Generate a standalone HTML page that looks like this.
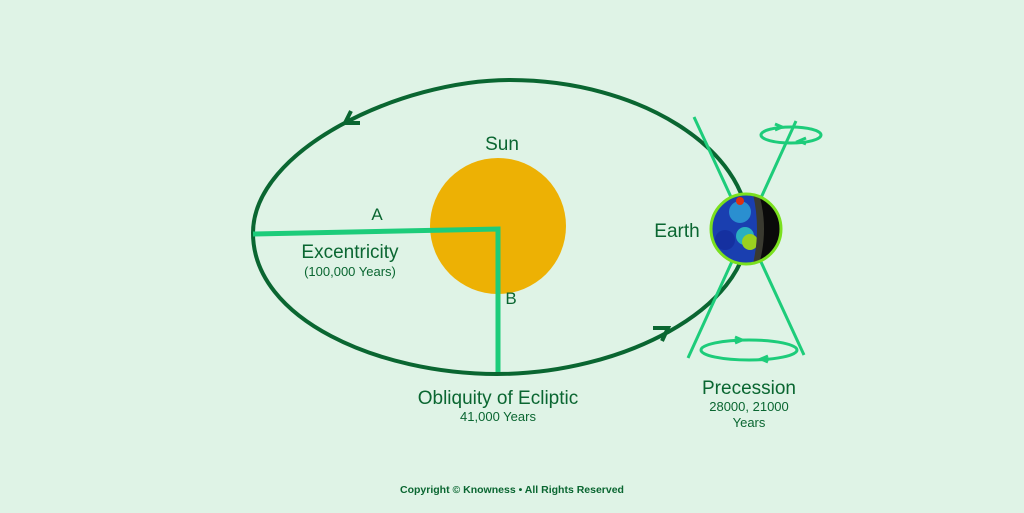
<!DOCTYPE html>
<html><head><style>
body{margin:0;width:1024px;height:508px;background:#dff3e6;overflow:hidden;font-family:"Liberation Sans",sans-serif}
</style></head><body>
<svg width="1024" height="508" viewBox="0 0 1024 508" xmlns="http://www.w3.org/2000/svg">
<rect width="1024" height="508" fill="#dff3e6"/>
<path d="M253,233 C253,150 400,80 510,80 C640,80 748,150 748,228 C748,310 620,374 497,374 C380,374 253,320 253,233 Z" fill="none" stroke="#0a6631" stroke-width="4"/>
<polyline points="351,111 345,123 360,123" fill="none" stroke="#0a6631" stroke-width="4"/>
<polyline points="653,328 668,328 662,341" fill="none" stroke="#0a6631" stroke-width="4"/>
<circle cx="498" cy="226" r="68" fill="#edb104"/>
<polyline points="253,234 498,229 498,372" fill="none" stroke="#1dcc7a" stroke-width="5"/>
<g stroke="#1dcc7a" stroke-width="3" fill="none">
<line x1="694" y1="117" x2="804" y2="355"/>
<line x1="796" y1="121" x2="688" y2="358"/>
<ellipse cx="791" cy="135" rx="30" ry="8"/>
<ellipse cx="749" cy="350" rx="48" ry="10"/>
<polyline points="775,124 782,127 775,130"/>
<polyline points="806,138 799,141 806,144"/>
<polyline points="735,337 742,340 735,343"/>
<polyline points="768,356 761,359 768,362"/>
</g>
<defs><clipPath id="ec"><circle cx="746" cy="229" r="35"/></clipPath></defs>
<g clip-path="url(#ec)">
<rect x="710" y="193" width="72" height="72" fill="#1a3fb0"/>
<circle cx="740" cy="212" r="11" fill="#2a8fd0"/>
<circle cx="725" cy="240" r="10" fill="#1530a0"/>
<circle cx="745" cy="236" r="9" fill="#2ab0c0"/>
<circle cx="750" cy="242" r="8" fill="#9ad020"/>
<circle cx="740" cy="201" r="4" fill="#e03010"/>
<path d="M752,190 Q762,229 752,268 L790,268 L790,190 Z" fill="#3a3a30"/>
<path d="M758,190 Q770,229 758,268 L790,268 L790,190 Z" fill="#0a0a0a"/>
</g>
<circle cx="746" cy="229" r="35" fill="none" stroke="#7ae01e" stroke-width="3"/>
<g fill="#0a6631" font-size="19" text-anchor="middle">
<text x="502" y="150">Sun</text>
<text x="377" y="220" font-size="17">A</text>
<text x="511" y="304" font-size="17">B</text>
<text x="350" y="258">Excentricity</text>
<text x="350" y="276" font-size="13">(100,000 Years)</text>
<text x="677" y="237">Earth</text>
<text x="498" y="404">Obliquity of Ecliptic</text>
<text x="498" y="421" font-size="13">41,000 Years</text>
<text x="749" y="394">Precession</text>
<text x="749" y="411" font-size="13">28000, 21000</text>
<text x="749" y="427" font-size="13">Years</text>
<text x="512" y="493" font-size="10.5" font-weight="bold">Copyright © Knowness • All Rights Reserved</text>
</g>
</svg>
</body></html>
